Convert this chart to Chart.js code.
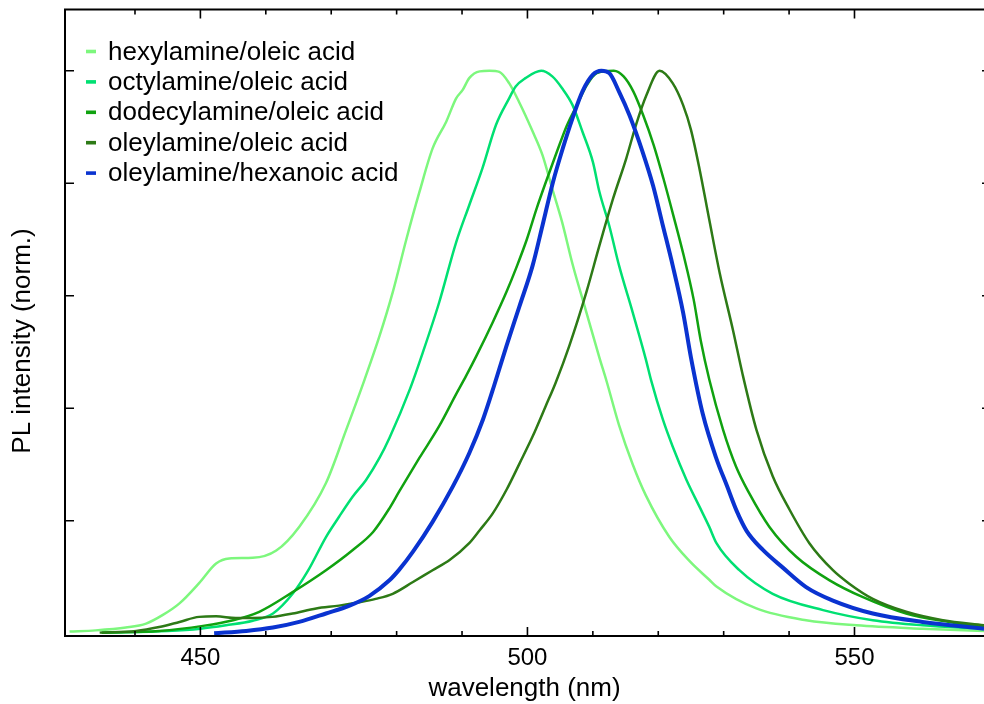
<!DOCTYPE html>
<html>
<head>
<meta charset="utf-8">
<script src="https://cdn.jsdelivr.net/npm/chart.js@4.4.0/dist/chart.umd.min.js"></script>
<style>
  html, body { margin: 0; padding: 0; background: #fff; overflow: hidden; }
  #wrap { width: 984px; height: 704px; position: relative; }
</style>
</head>
<body>
<div id="wrap"><canvas id="plChart"></canvas></div>
<script>
// PL spectra (normalised) for the different ligand pairs
const seriesLabels = ['hexylamine/oleic acid', 'octylamine/oleic acid', 'dodecylamine/oleic acid', 'oleylamine/oleic acid', 'oleylamine/hexanoic acid'];
const seriesColors = ['#7df77d', '#00e072', '#10a210', '#2d7a16', '#0a33d0'];

const hexWl = [430.0, 434.0, 438.6, 441.7, 444.2, 446.8, 449.8, 452.4, 454.4, 458.0, 461.6, 465.1, 469.2, 472.3, 475.1, 477.4, 479.4, 481.5, 483.5, 485.5, 487.6, 489.1, 490.1, 491.1, 492.7, 494.2, 495.7, 497.2, 498.7, 500.8, 502.3, 503.8, 505.3, 506.9, 508.9, 511.0, 512.1, 514.0, 516.1, 518.1, 521.7, 524.8, 527.8, 528.9, 535.0, 542.6, 550.3, 560.4, 569.8];
const hexPl = [0.003, 0.005, 0.010, 0.017, 0.032, 0.053, 0.089, 0.124, 0.133, 0.134, 0.147, 0.189, 0.267, 0.362, 0.451, 0.529, 0.606, 0.701, 0.785, 0.862, 0.910, 0.951, 0.966, 0.987, 0.999, 1.000, 0.998, 0.978, 0.945, 0.892, 0.850, 0.790, 0.731, 0.656, 0.575, 0.490, 0.448, 0.370, 0.300, 0.245, 0.171, 0.128, 0.095, 0.083, 0.044, 0.023, 0.014, 0.008, 0.004];

const octWl = [435.0, 445.0, 450.0, 453.9, 458.0, 461.1, 464.1, 466.5, 469.2, 471.2, 473.3, 475.3, 477.4, 478.9, 482.0, 484.0, 486.5, 489.1, 491.1, 493.1, 495.2, 497.2, 498.2, 499.7, 502.1, 503.8, 505.3, 506.9, 508.4, 510.0, 511.0, 512.5, 514.0, 516.1, 518.1, 518.9, 520.7, 522.2, 524.3, 526.3, 527.8, 528.9, 532.4, 537.5, 545.2, 552.8, 560.4, 569.8];
const octPl = [0.001, 0.004, 0.008, 0.014, 0.022, 0.035, 0.070, 0.112, 0.171, 0.207, 0.243, 0.272, 0.312, 0.347, 0.433, 0.499, 0.588, 0.695, 0.761, 0.826, 0.904, 0.951, 0.972, 0.987, 1.000, 0.990, 0.969, 0.939, 0.892, 0.838, 0.785, 0.725, 0.654, 0.570, 0.487, 0.450, 0.380, 0.332, 0.273, 0.225, 0.189, 0.160, 0.112, 0.070, 0.041, 0.023, 0.014, 0.008];

const dodWl = [434.9, 443.7, 450.4, 455.0, 459.0, 464.1, 469.2, 473.3, 476.4, 478.9, 480.4, 483.5, 486.5, 489.1, 490.6, 492.2, 494.7, 496.8, 498.3, 499.9, 501.4, 502.9, 504.5, 506.0, 507.6, 509.1, 510.6, 513.2, 514.7, 516.2, 517.7, 519.3, 520.8, 522.3, 523.9, 525.4, 526.5, 527.8, 529.9, 531.9, 533.9, 537.0, 541.1, 546.2, 551.3, 557.9, 564.5, 569.8];
const dodPl = [0.001, 0.004, 0.013, 0.023, 0.038, 0.073, 0.112, 0.148, 0.180, 0.222, 0.252, 0.312, 0.368, 0.425, 0.457, 0.493, 0.553, 0.607, 0.650, 0.700, 0.755, 0.805, 0.856, 0.902, 0.940, 0.975, 0.996, 1.000, 0.990, 0.963, 0.921, 0.868, 0.808, 0.743, 0.671, 0.594, 0.520, 0.451, 0.362, 0.296, 0.249, 0.189, 0.136, 0.094, 0.064, 0.035, 0.020, 0.011];

const oleWl = [434.6, 440.2, 443.7, 446.8, 449.8, 452.4, 455.4, 458.0, 461.0, 464.1, 467.7, 471.2, 474.3, 476.8, 479.4, 482.5, 485.5, 488.1, 491.1, 492.7, 494.7, 496.8, 498.8, 500.8, 502.8, 504.3, 506.4, 509.0, 511.0, 513.1, 515.1, 516.6, 518.2, 520.2, 522.2, 523.8, 525.0, 526.3, 527.8, 529.4, 531.4, 532.9, 535.0, 537.5, 540.1, 543.1, 546.7, 549.2, 552.8, 557.9, 563.5, 569.8];
const olePl = [0.001, 0.004, 0.011, 0.020, 0.029, 0.030, 0.027, 0.027, 0.029, 0.035, 0.044, 0.049, 0.055, 0.061, 0.070, 0.091, 0.112, 0.130, 0.160, 0.183, 0.213, 0.255, 0.302, 0.350, 0.404, 0.445, 0.511, 0.606, 0.689, 0.773, 0.844, 0.904, 0.957, 1.000, 0.978, 0.939, 0.895, 0.826, 0.735, 0.640, 0.540, 0.460, 0.362, 0.279, 0.219, 0.160, 0.112, 0.088, 0.061, 0.038, 0.023, 0.014];

const hxaWl = [452.1, 457.0, 461.1, 465.1, 469.2, 472.8, 475.8, 478.9, 480.4, 482.5, 485.5, 488.6, 491.1, 493.2, 494.9, 496.8, 498.8, 500.8, 502.3, 503.9, 505.4, 506.9, 508.4, 510.0, 511.3, 512.5, 514.0, 515.6, 517.6, 519.2, 520.7, 522.2, 523.8, 525.0, 526.8, 528.9, 530.5, 532.0, 533.5, 536.0, 539.0, 542.6, 546.7, 552.8, 560.4, 569.8];
const hxaPl = [0.000, 0.004, 0.010, 0.020, 0.035, 0.049, 0.066, 0.094, 0.113, 0.145, 0.198, 0.261, 0.320, 0.380, 0.440, 0.511, 0.582, 0.654, 0.725, 0.802, 0.862, 0.916, 0.963, 0.993, 1.000, 0.996, 0.963, 0.921, 0.856, 0.796, 0.725, 0.654, 0.570, 0.490, 0.390, 0.310, 0.262, 0.217, 0.182, 0.148, 0.117, 0.082, 0.058, 0.035, 0.020, 0.008];

const xTitle = 'wavelength (nm)';
const yTitle = 'PL intensity (norm.)';
const FONT = '"Liberation Sans", Arial, Helvetica, sans-serif';

const toPts = (wl, pl) => wl.map((x, i) => ({ x, y: pl[i] }));
const wlSets = [hexWl, octWl, dodWl, oleWl, hxaWl];
const plSets = [hexPl, octPl, dodPl, olePl, hxaPl];

const datasets = seriesLabels.map((label, i) => ({
  label,
  data: toPts(wlSets[i], plSets[i]),
  borderColor: seriesColors[i],
  backgroundColor: seriesColors[i],
  borderWidth: i === 4 ? 4 : 2.5,
  pointRadius: 0,
  fill: false,
  cubicInterpolationMode: 'monotone',
  order: 5 - i  // blue on top
}));

const near = (v, step) => Math.abs(v / step - Math.round(v / step)) < 1e-6;

// box frame, inward ticks on all four sides, legend and y title
const framePlugin = {
  id: 'frame',
  afterDraw(chart) {
    const { ctx, chartArea: a, scales: { x, y } } = chart;
    const rightEdge = a.right + 7;  // right axis sits just past the canvas
    ctx.save();
    ctx.strokeStyle = '#000';
    ctx.lineWidth = 2;
    ctx.beginPath();
    ctx.moveTo(rightEdge, a.top);
    ctx.lineTo(a.left, a.top);
    ctx.lineTo(a.left, a.bottom);
    ctx.lineTo(rightEdge, a.bottom);
    ctx.stroke();

    ctx.lineWidth = 1.6;
    ctx.beginPath();
    x.ticks.forEach(t => {
      if (!near(t.value, 10)) return;
      const len = near(t.value, 50) ? 9 : 5;
      const px = x.getPixelForValue(t.value);
      ctx.moveTo(px, a.bottom); ctx.lineTo(px, a.bottom - len);
      ctx.moveTo(px, a.top); ctx.lineTo(px, a.top + len);
    });
    y.ticks.forEach(t => {
      if (!near(t.value, 0.2)) return;
      const py = y.getPixelForValue(t.value);
      ctx.moveTo(a.left, py); ctx.lineTo(a.left + 9, py);
      ctx.moveTo(rightEdge, py); ctx.lineTo(rightEdge - 9, py);
    });
    ctx.stroke();

    // legend
    ctx.font = '26px ' + FONT;
    ctx.textBaseline = 'middle';
    ctx.textAlign = 'left';
    seriesLabels.forEach((lab, i) => {
      const yy = a.top + 42 + i * 30.4;
      ctx.fillStyle = seriesColors[i];
      ctx.fillRect(a.left + 21, yy - 1.8, 10, 3.6);
      ctx.fillStyle = '#000';
      ctx.fillText(lab, a.left + 43, yy + 1);
    });

    // y title
    ctx.translate(22.5, 341);
    ctx.rotate(-Math.PI / 2);
    ctx.textAlign = 'center';
    ctx.fillText(yTitle, 0, 0);
    ctx.restore();
  }
};

new Chart(document.getElementById('plChart'), {
  type: 'line',
  data: { datasets },
  options: {
    responsive: true,
    maintainAspectRatio: false,
    animation: false,
    layout: { autoPadding: false, padding: { top: 9.5, right: 0, left: 0, bottom: 0 } },
    plugins: { legend: { display: false }, tooltip: { enabled: false } },
    scales: {
      x: {
        type: 'linear',
        min: 429.3,
        max: 569.8,
        grid: { display: false, drawTicks: false },
        border: { display: false },
        ticks: {
          stepSize: 10,
          autoSkip: false,
          maxRotation: 0,
          padding: 8,
          color: '#000',
          font: { family: FONT, size: 24 },
          callback: v => near(v, 50) ? String(Math.round(v)) : ''
        },
        title: { display: true, text: xTitle, color: '#000', font: { family: FONT, size: 26 }, padding: 0 },
        afterFit: s => { s.height = 68; s.paddingLeft = 0; s.paddingRight = 0; }
      },
      y: {
        min: -0.005,
        max: 1.109,
        grid: { display: false, drawTicks: false },
        border: { display: false },
        ticks: { stepSize: 0.2, display: false },
        afterFit: s => { s.width = 65; s.paddingTop = 0; s.paddingBottom = 0; }
      }
    }
  },
  plugins: [framePlugin]
});
</script>
</body>
</html>
